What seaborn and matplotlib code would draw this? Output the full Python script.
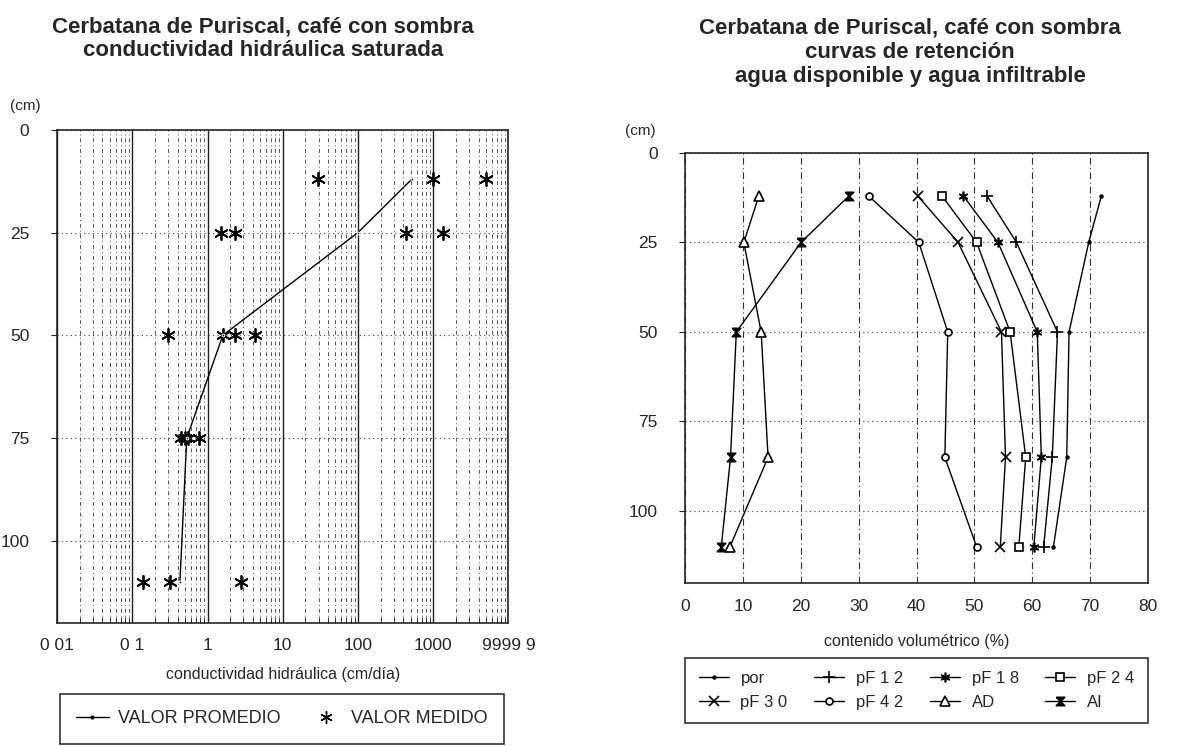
import numpy as np
import pandas as pd
import matplotlib
matplotlib.use("Agg")
import matplotlib.pyplot as plt
from matplotlib.lines import Line2D
import seaborn as sns

# --- left panel: saturated hydraulic conductivity (cm/dia) by depth (cm)
prom_depth = [12, 25, 50, 75, 110]
prom_k = [520, 100, 1.6, 0.53, 0.43]

med_depth = [12, 12, 12, 25, 25, 25, 25, 50, 50, 50, 50, 75, 75, 75, 75, 110, 110, 110]
med_k = [29, 980, 5000, 1.5, 2.3, 440, 1330, 0.30, 1.6, 2.35, 4.3,
         0.45, 0.5, 0.55, 0.78, 0.14, 0.32, 2.8]

k_ticks = [0.01, 0.1, 1, 10, 100, 1000, 10000]
k_ticklabels = ["0 01", "0 1", "1", "10", "100", "1000", "9999 9"]

# --- right panel: retention curves (% volume) by depth (cm)
ret_depth = [12, 25, 50, 85, 110]
por = [72.0, 69.8, 66.4, 66.0, 63.7]
pf12 = [52.2, 57.3, 64.4, 63.5, 62.0]
pf18 = [48.1, 54.1, 60.9, 61.6, 60.3]
pf24 = [44.4, 50.4, 56.2, 58.9, 57.7]
pf30 = [40.2, 47.2, 54.7, 55.4, 54.5]
pf42 = [31.7, 40.4, 45.4, 44.9, 50.4]
ad = [12.7, 10.1, 13.1, 14.3, 7.7]
ai = [28.3, 20.0, 8.8, 7.8, 6.2]

series_names = ["por", "pF 1 2", "pF 1 8", "pF 2 4", "pF 3 0", "pF 4 2", "AD", "AI"]
series_vals = [por, pf12, pf18, pf24, pf30, pf42, ad, ai]

hourglass = [(-1, 1), (1, 1), (-1, -1), (1, -1), (-1, 1)]
markers = {"por": ".", "pF 1 2": "+", "pF 1 8": (6, 2, 0), "pF 2 4": "s",
           "pF 3 0": "x", "pF 4 2": "o", "AD": "^", "AI": hourglass}
msize = {"por": 4, "pF 1 2": 8, "pF 1 8": 7, "pF 2 4": 6, "pF 3 0": 7,
         "pF 4 2": 5, "AD": 7, "AI": 6}

sns.set_style("ticks")
plt.rcParams["font.family"] = ["Liberation Sans", "DejaVu Sans"]
plt.rcParams["axes.linewidth"] = 1.2

fig = plt.figure(figsize=(11.88, 7.46), dpi=100)

# ---------------- left
ax1 = fig.add_axes([0.048, 0.165, 0.380, 0.661])
sns.lineplot(x=prom_k, y=prom_depth, sort=False, estimator=None, color="black",
             lw=1.0, marker=".", markersize=4, ax=ax1)
sns.scatterplot(x=med_k, y=med_depth, marker=(6, 2, 0), s=90, color="black",
                linewidth=1.3, ax=ax1)
ax1.set_xscale("log")
ax1.set_xlim(0.01, 10000)
ax1.set_ylim(120, 0)
ax1.set_xticks(k_ticks)
ax1.set_xticklabels(k_ticklabels, fontsize=12.5)
ax1.set_yticks([0, 25, 50, 75, 100])
ax1.tick_params(axis="y", labelsize=12.5, length=4, pad=16)
ax1.tick_params(axis="x", which="major", length=0, pad=11)
ax1.tick_params(axis="x", which="minor", length=4, direction="in")
ax1.grid(True, axis="x", which="major", color="#222222", lw=1.0)
ax1.grid(True, axis="x", which="minor", color="#555555", lw=0.7, ls=(0, (4, 3, 1, 3)))
ax1.grid(True, axis="y", which="major", color="#444444", lw=0.8, ls=(0, (1, 3)))
ax1.set_xlabel("conductividad hidráulica (cm/día)", fontsize=11.5, labelpad=10)
ax1.set_ylabel("")
fig.text(0.008, 0.858, "(cm)", fontsize=11, ha="left", va="center")
fig.text(0.2215, 0.948, "Cerbatana de Puriscal, café con sombra\nconductividad hidráulica saturada",
         fontsize=16, fontweight="bold", ha="center", va="center", linespacing=1.2)

h1 = [Line2D([], [], color="black", lw=1.0, marker=".", markersize=4),
      Line2D([], [], ls="none", marker=(6, 2, 0), color="black", markersize=9)]
leg1 = fig.legend(h1, ["VALOR PROMEDIO", "VALOR MEDIDO"], loc="upper left",
                  bbox_to_anchor=(0.0505, 0.0697), bbox_transform=fig.transFigure,
                  ncol=2, fontsize=13, frameon=True, fancybox=False,
                  edgecolor="black", borderpad=0.9, handlelength=1.8, borderaxespad=0,
                  handletextpad=0.5, columnspacing=1.6)
leg1.get_frame().set_linewidth(1.2)

# ---------------- right
ax2 = fig.add_axes([0.577, 0.219, 0.389, 0.576])
ret = pd.DataFrame({
    "depth": np.tile(ret_depth, len(series_names)),
    "value": np.concatenate(series_vals),
    "serie": np.repeat(series_names, len(ret_depth)),
})
handles = {}
for name in series_names:
    d = ret[ret["serie"] == name]
    mk = markers[name]
    hollow = name in ("pF 2 4", "pF 4 2", "AD")
    style = dict(color="black", lw=1.0, marker=mk, markersize=msize[name],
                 markerfacecolor="white" if hollow else "black",
                 markeredgecolor="black", markeredgewidth=1.2)
    sns.lineplot(data=d, x="value", y="depth", sort=False, estimator=None, ax=ax2, **style)
    handles[name] = Line2D([], [], **style)
ax2.set_xlim(0, 80)
ax2.set_ylim(120, 0)
ax2.set_xticks(range(0, 81, 10))
ax2.set_yticks([0, 25, 50, 75, 100])
ax2.tick_params(axis="both", labelsize=12.5, length=4)
ax2.tick_params(axis="x", length=0, pad=12)
ax2.tick_params(axis="y", pad=16)
ax2.grid(True, axis="x", color="#333333", lw=0.8, ls=(0, (6, 3, 1, 3)))
ax2.grid(True, axis="y", color="#444444", lw=0.8, ls=(0, (1, 3)))
ax2.set_xlabel("contenido volumétrico (%)", fontsize=11.5, labelpad=14)
ax2.set_ylabel("")
fig.text(0.526, 0.824, "(cm)", fontsize=11, ha="left", va="center")
fig.text(0.766, 0.930, "Cerbatana de Puriscal, café con sombra\ncurvas de retención\nagua disponible y agua infiltrable",
         fontsize=16, fontweight="bold", ha="center", va="center", linespacing=1.2)

order = ["por", "pF 3 0", "pF 1 2", "pF 4 2", "pF 1 8", "AD", "pF 2 4", "AI"]
leg2 = fig.legend([handles[n] for n in order], order, loc="upper left",
                  bbox_to_anchor=(0.577, 0.018, 0.389, 0.1), bbox_transform=fig.transFigure,
                  mode="expand", ncol=4, fontsize=12, frameon=True, fancybox=False,
                  edgecolor="black", borderpad=0.8, handlelength=1.8, handletextpad=0.7,
                  labelspacing=0.5, borderaxespad=0)
leg2.get_frame().set_linewidth(1.2)

fig.savefig("out.png", dpi=100, facecolor="white")
